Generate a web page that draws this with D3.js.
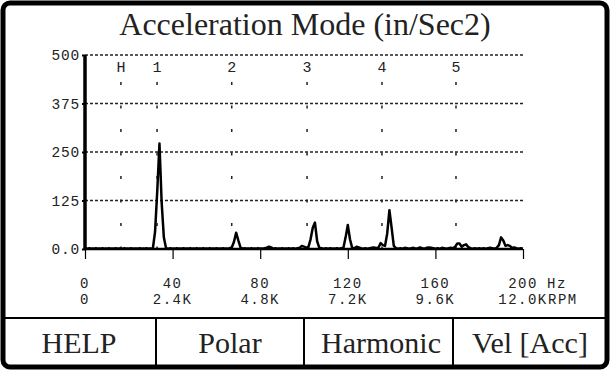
<!DOCTYPE html>
<html>
<head>
<meta charset="utf-8">
<script src="https://cdn.jsdelivr.net/npm/d3@7"></script>
<style>
  html, body { margin: 0; padding: 0; background: #fff; }
  svg { display: block; }
</style>
</head>
<body>
<svg id="chart" width="610" height="372"></svg>
<script>
// ---------- DATA ----------
const title = "Acceleration Mode (in/Sec2)";
// amplitude per 1 Hz bin, 0..200 Hz (in/Sec2)
const amplitude = [
  2, 1, 2, 1, 1, 2, 1, 1, 2, 1,      // 0-9
  1, 2, 1, 1, 2, 1, 1, 1, 2, 1,      // 10-19
  1, 2, 1, 1, 1, 2, 1, 1, 2, 1,      // 20-29
  1, 2, 45, 150, 272, 120, 30, 2, 1, 2, // 30-39
  1, 1, 2, 1, 1, 2, 1, 1, 2, 1,      // 40-49
  1, 2, 1, 1, 2, 1, 1, 2, 1, 1,      // 50-59
  2, 1, 1, 2, 1, 1, 2, 4, 18, 42,    // 60-69
  22, 4, 1, 2, 1, 1, 2, 1, 1, 2,     // 70-79
  1, 1, 2, 3, 6, 4, 1, 2, 1, 1,      // 80-89
  2, 1, 1, 2, 1, 2, 1, 2, 3, 8,      // 90-99
  6, 3, 5, 25, 55, 68, 20, 3, 2, 1,  // 100-109
  2, 1, 2, 1, 1, 2, 1, 2, 3, 30,     // 110-119
  62, 25, 3, 2, 6, 4, 2, 1, 2, 1,    // 120-129
  2, 3, 4, 2, 4, 15, 10, 8, 40, 100, // 130-139
  55, 8, 2, 1, 2, 1, 3, 2, 1, 2,     // 140-149
  3, 1, 2, 4, 2, 1, 3, 4, 3, 2,      // 150-159
  1, 2, 1, 3, 2, 1, 2, 3, 2, 6,      // 160-169
  14, 14, 6, 10, 12, 5, 2, 1, 2, 1,  // 170-179
  2, 1, 2, 1, 2, 3, 2, 1, 3, 10,     // 180-189
  30, 22, 8, 10, 8, 3, 4, 2, 1, 2,   // 190-199
  1                                   // 200
];
const xTicksHz = [0, 40, 80, 120, 160, 200];
const xTickLabelsHz = ["0", "40", "80", "120", "160", "200"];
const xTickLabelsRpm = ["0", "2.4K", "4.8K", "7.2K", "9.6K", "12.0K"];
const yTicks = [0, 125, 250, 375, 500];
const yTickLabels = ["0.0", "125", "250", "375", "500"];
const harmonicLabels = ["H", "1", "2", "3", "4", "5"];
const harmonicHz = [16.4, 32.9, 67.0, 101.4, 135.6, 169.4];
const buttons = ["HELP", "Polar", "Harmonic", "Vel [Acc]"];

// ---------- DRAW ----------
const svg = d3.select("#chart");
const x = d3.scaleLinear().domain([0, 200]).range([85, 523]);
const y = d3.scaleLinear().domain([0, 500]).range([249, 55]);
const mono = "'Liberation Mono', 'DejaVu Sans Mono', monospace";
const serif = "'Liberation Serif', 'DejaVu Serif', serif";

// outer frame
svg.append("rect")
  .attr("x", 3).attr("y", 3).attr("width", 604).attr("height", 364)
  .attr("rx", 7).attr("ry", 7)
  .attr("fill", "#fff").attr("stroke", "#000").attr("stroke-width", 5);

// title
svg.append("text")
  .attr("x", 305).attr("y", 35)
  .attr("text-anchor", "middle")
  .attr("font-family", serif).attr("font-size", 32)
  .attr("fill", "#222")
  .text(title);

// horizontal grid lines (dashed)
svg.append("g").selectAll("line")
  .data(yTicks.filter(d => d > 0))
  .join("line")
  .attr("x1", x(0)).attr("x2", x(200))
  .attr("y1", d => y(d)).attr("y2", d => y(d))
  .attr("stroke", "#222").attr("stroke-width", 1.5)
  .attr("stroke-dasharray", "3,2");

// harmonic markers (dotted verticals)
const hg = svg.append("g");
hg.selectAll("line")
  .data(harmonicHz)
  .join("line")
  .attr("x1", d => x(d)).attr("x2", d => x(d))
  .attr("y1", 82).attr("y2", y(0))
  .attr("stroke", "#222").attr("stroke-width", 1.5)
  .attr("stroke-dasharray", "3,20.5");
hg.selectAll("text")
  .data(harmonicLabels)
  .join("text")
  .attr("x", (d, i) => x(harmonicHz[i]))
  .attr("y", 72)
  .attr("text-anchor", "middle")
  .attr("font-family", mono).attr("font-size", 15)
  .attr("fill", "#222")
  .text(d => d);

// x axis ticks
const xAxis = d3.axisBottom(x).tickValues(xTicksHz).tickSize(10).tickFormat("");
const xg = svg.append("g").attr("transform", `translate(0,${y(0)})`).call(xAxis);
xg.select(".domain").remove();
xg.selectAll(".tick line").attr("stroke", "#000").attr("stroke-width", 1.2);

// x labels rows
const lbl = svg.append("g").attr("font-family", mono).attr("font-size", 14)
  .attr("fill", "#222").attr("letter-spacing", 1.5);
lbl.selectAll("text.hz")
  .data(xTicksHz)
  .join("text").attr("class", "hz")
  .attr("x", d => x(d)).attr("y", 288)
  .attr("text-anchor", "middle")
  .text((d, i) => xTickLabelsHz[i]);
lbl.selectAll("text.rpm")
  .data(xTicksHz)
  .join("text").attr("class", "rpm")
  .attr("x", d => x(d)).attr("y", 304)
  .attr("text-anchor", "middle")
  .text((d, i) => xTickLabelsRpm[i]);
lbl.append("text").attr("x", x(200) + 24).attr("y", 288).text("Hz");
lbl.append("text").attr("x", x(200) + 25).attr("y", 304).text("RPM");

// y axis
const yAxis = d3.axisLeft(y).tickValues(yTicks).tickSize(3)
  .tickFormat((d, i) => yTickLabels[i]);
const yg = svg.append("g").attr("transform", `translate(${x(0)},0)`).call(yAxis);
yg.select(".domain").remove();
yg.selectAll(".tick line").attr("stroke", "#000").attr("stroke-width", 2);
yg.selectAll(".tick text")
  .attr("font-family", mono).attr("font-size", 14.5)
  .attr("fill", "#222").attr("letter-spacing", 0.8)
  .attr("x", -5);

// spectrum line
const line = d3.line()
  .x((d, i) => x(i))
  .y(d => y(d));
svg.append("path")
  .datum(amplitude)
  .attr("d", line)
  .attr("fill", "none").attr("stroke", "#000")
  .attr("stroke-width", 2.5).attr("stroke-linejoin", "round");

// baseline and y axis line
svg.append("line")
  .attr("x1", x(0)).attr("x2", x(200))
  .attr("y1", y(0)).attr("y2", y(0))
  .attr("stroke", "#000").attr("stroke-width", 2.5);
svg.append("line")
  .attr("x1", x(0)).attr("x2", x(0))
  .attr("y1", y(500)).attr("y2", y(0) + 1)
  .attr("stroke", "#000").attr("stroke-width", 3.5);

// button bar
svg.append("line")
  .attr("x1", 3).attr("x2", 607).attr("y1", 318).attr("y2", 318)
  .attr("stroke", "#000").attr("stroke-width", 2);
const dividers = [156, 304, 453];
svg.append("g").selectAll("line")
  .data(dividers)
  .join("line")
  .attr("x1", d => d).attr("x2", d => d)
  .attr("y1", 318).attr("y2", 366)
  .attr("stroke", "#000").attr("stroke-width", 2);
const btnCenters = [79, 230, 381, 530];
svg.append("g").selectAll("text")
  .data(buttons)
  .join("text")
  .attr("x", (d, i) => btnCenters[i]).attr("y", 353)
  .attr("text-anchor", "middle")
  .attr("font-family", serif).attr("font-size", 30)
  .attr("fill", "#222")
  .text(d => d);
</script>
</body>
</html>
